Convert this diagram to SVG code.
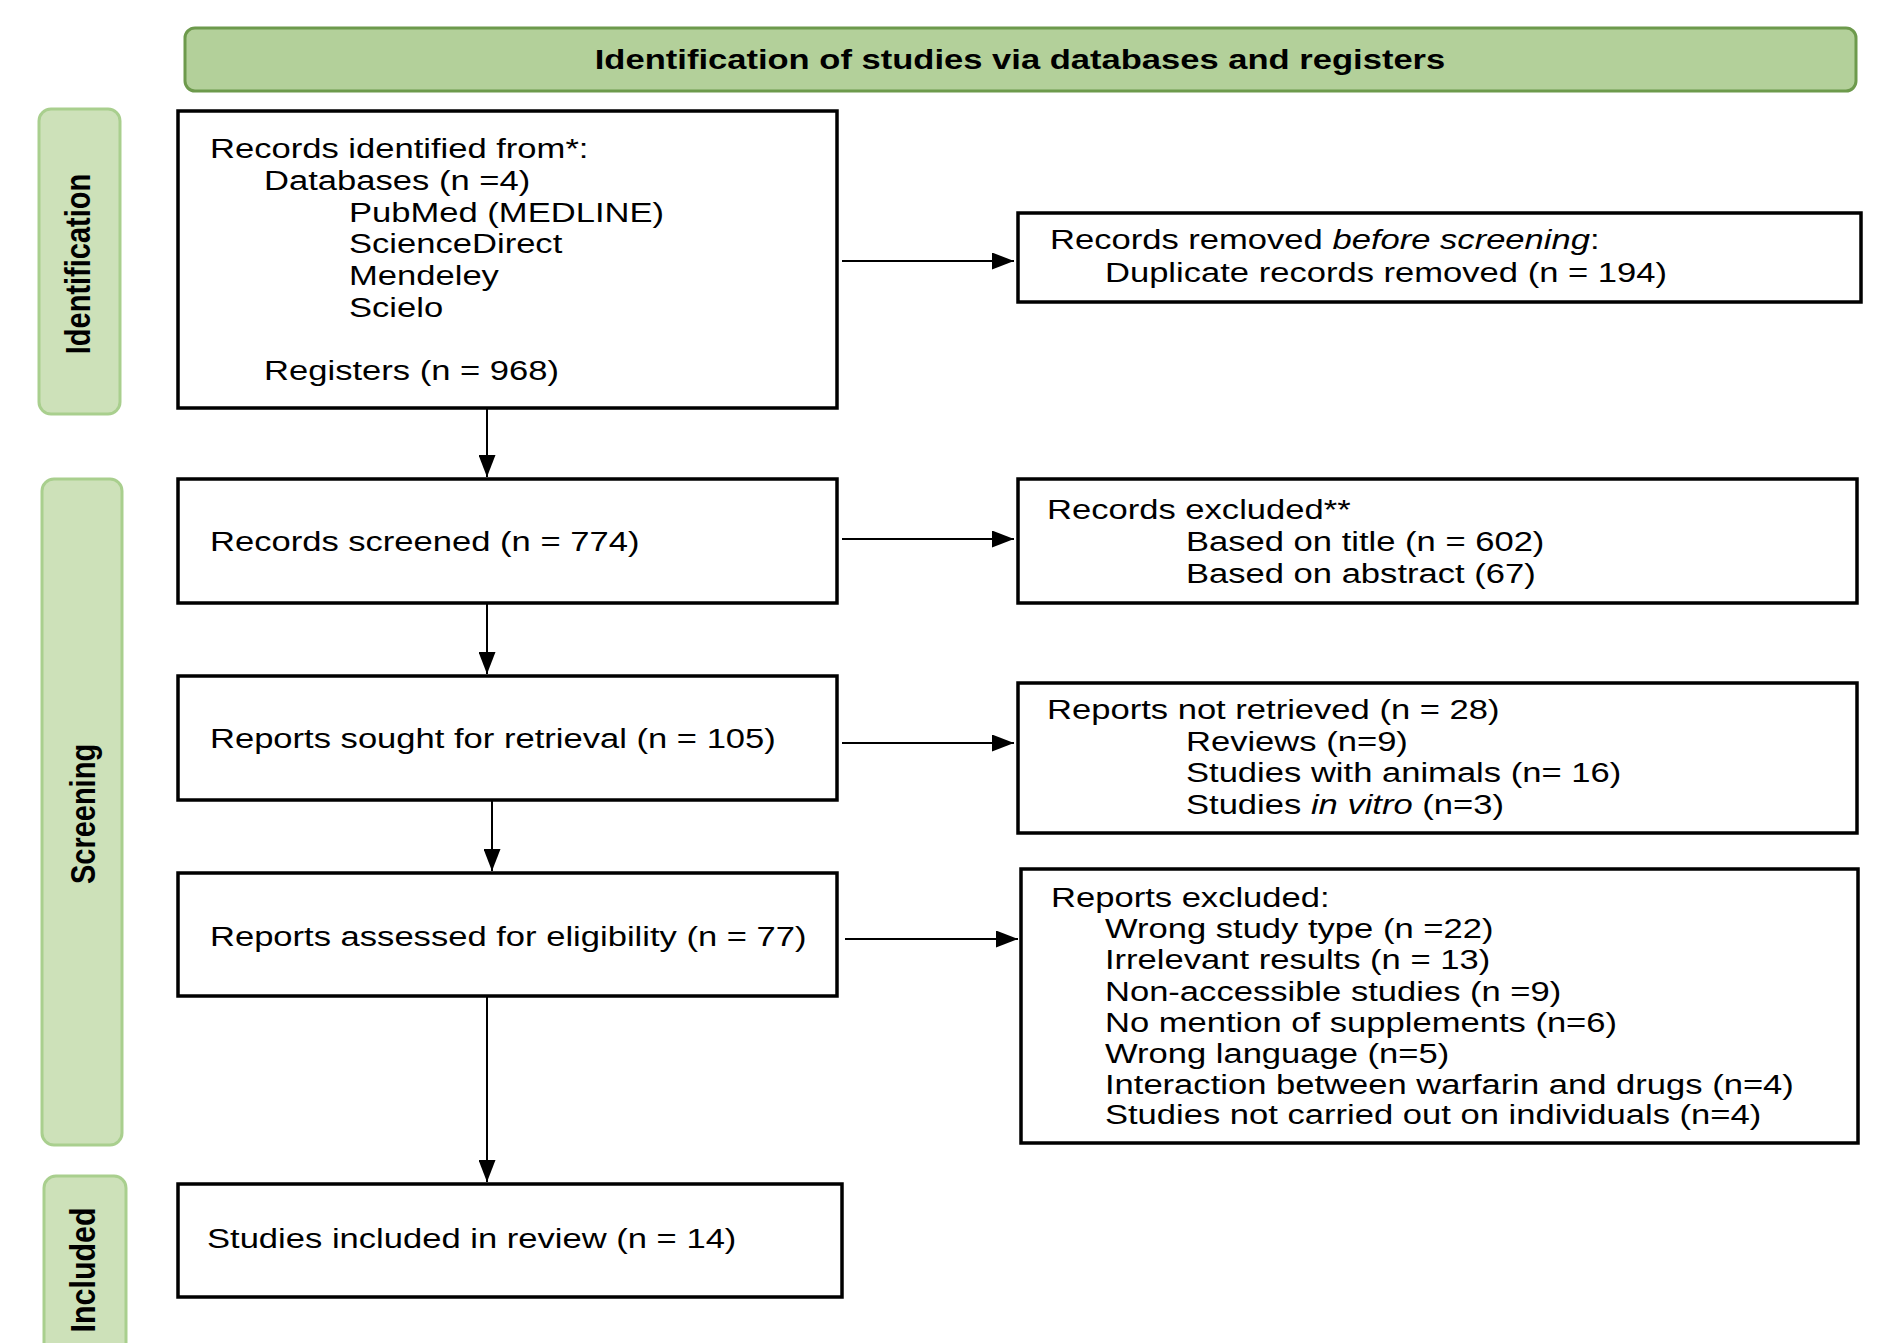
<svg xmlns="http://www.w3.org/2000/svg" width="1880" height="1343" viewBox="0 0 1880 1343">
<defs>
<style>
.box{fill:#ffffff;stroke:#000000;stroke-width:3.5}
.panel{fill:#cde1b9;stroke:#a9cf8e;stroke-width:3}
.hdr{fill:#b3d09a;stroke:#6d9a4c;stroke-width:3}
.t{font-family:"Liberation Sans",Arial,sans-serif;font-size:28px;fill:#000000}
.b{font-family:"Liberation Sans",Arial,sans-serif;font-weight:bold;fill:#000000}
.conn{stroke:#000000;stroke-width:2;fill:none;marker-end:url(#arr)}
</style>
<marker id="arr" viewBox="0 0 22 17" refX="22" refY="8.5" markerWidth="22" markerHeight="17" markerUnits="userSpaceOnUse" orient="auto">
<path d="M0,0 L22,8.5 L0,17 z" fill="#000000"/>
</marker>
</defs>
<rect width="1880" height="1343" fill="#ffffff"/>

<g id="header">
<rect class="hdr" x="185" y="28" width="1671" height="63" rx="10"/>
<text class="b" font-size="27" text-anchor="middle" transform="translate(1020,69) scale(1.28,1)" x="0" y="0">Identification of studies via databases and registers</text>
</g>

<g id="phase-identification">
<rect class="panel" x="39" y="109" width="81" height="305" rx="12"/>
<text class="b" font-size="29" text-anchor="middle" transform="translate(90,264) rotate(-90) scale(1,1.235)">Identification</text>
</g>
<g id="phase-screening">
<rect class="panel" x="42" y="479" width="80" height="666" rx="12"/>
<text class="b" font-size="29" text-anchor="middle" transform="translate(95,814) rotate(-90) scale(1,1.235)">Screening</text>
</g>
<g id="phase-included">
<rect class="panel" x="44" y="1176" width="82" height="190" rx="12"/>
<text class="b" font-size="29" text-anchor="middle" textLength="125" lengthAdjust="spacingAndGlyphs" transform="translate(95,1270) rotate(-90) scale(1,1.235)">Included</text>
</g>

<g id="connectors">
<path class="conn" d="M842,261 L1014,261"/>
<path class="conn" d="M487,409 L487,477"/>
<path class="conn" d="M842,539 L1014,539"/>
<path class="conn" d="M487,604 L487,674"/>
<path class="conn" d="M842,743 L1014,743"/>
<path class="conn" d="M492,801 L492,871"/>
<path class="conn" d="M845,939 L1018,939"/>
<path class="conn" d="M487,997 L487,1182"/>
</g>

<g id="records-identified">
<rect class="box" x="178" y="111" width="659" height="297"/>
<text class="t" transform="scale(1.235,1)">
<tspan x="170" y="158">Records identified from*:</tspan>
<tspan x="213.8" y="190">Databases (n =4)</tspan>
<tspan x="282.6" y="222">PubMed (MEDLINE)</tspan>
<tspan x="282.6" y="253">ScienceDirect</tspan>
<tspan x="282.6" y="285">Mendeley</tspan>
<tspan x="282.6" y="317">Scielo</tspan>
<tspan x="213.8" y="380">Registers (n = 968)</tspan>
</text>
</g>

<g id="records-removed">
<rect class="box" x="1018" y="213" width="843" height="89"/>
<text class="t" transform="scale(1.235,1)">
<tspan x="850.2" y="249">Records removed <tspan font-style="italic">before screening</tspan>:</tspan>
<tspan x="894.7" y="282">Duplicate records removed (n = 194)</tspan>
</text>
</g>

<g id="records-screened">
<rect class="box" x="178" y="479" width="659" height="124"/>
<text class="t" transform="scale(1.235,1)" x="170" y="551">Records screened (n = 774)</text>
</g>

<g id="records-excluded">
<rect class="box" x="1018" y="479" width="839" height="124"/>
<text class="t" transform="scale(1.235,1)">
<tspan x="847.8" y="519">Records excluded**</tspan>
<tspan x="960.3" y="551">Based on title (n = 602)</tspan>
<tspan x="960.3" y="583">Based on abstract (67)</tspan>
</text>
</g>

<g id="reports-sought">
<rect class="box" x="178" y="676" width="659" height="124"/>
<text class="t" transform="scale(1.235,1)" x="170" y="748">Reports sought for retrieval (n = 105)</text>
</g>

<g id="reports-not-retrieved">
<rect class="box" x="1018" y="683" width="839" height="150"/>
<text class="t" transform="scale(1.235,1)">
<tspan x="847.8" y="719">Reports not retrieved (n = 28)</tspan>
<tspan x="960.3" y="751">Reviews (n=9)</tspan>
<tspan x="960.3" y="782">Studies with animals (n= 16)</tspan>
<tspan x="960.3" y="814">Studies <tspan font-style="italic">in vitro</tspan> (n=3)</tspan>
</text>
</g>

<g id="reports-assessed">
<rect class="box" x="178" y="873" width="659" height="123"/>
<text class="t" transform="scale(1.235,1)" x="170" y="946">Reports assessed for eligibility (n = 77)</text>
</g>

<g id="reports-excluded">
<rect class="box" x="1021" y="869" width="837" height="274"/>
<text class="t" transform="scale(1.235,1)">
<tspan x="851" y="907">Reports excluded:</tspan>
<tspan x="894.7" y="938">Wrong study type (n =22)</tspan>
<tspan x="894.7" y="969">Irrelevant results (n = 13)</tspan>
<tspan x="894.7" y="1001">Non-accessible studies (n =9)</tspan>
<tspan x="894.7" y="1032">No mention of supplements (n=6)</tspan>
<tspan x="894.7" y="1063">Wrong language (n=5)</tspan>
<tspan x="894.7" y="1094">Interaction between warfarin and drugs (n=4)</tspan>
<tspan x="894.7" y="1124">Studies not carried out on individuals (n=4)</tspan>
</text>
</g>

<g id="studies-included">
<rect class="box" x="178" y="1184" width="664" height="113"/>
<text class="t" transform="scale(1.235,1)" x="167.6" y="1248">Studies included in review (n = 14)</text>
</g>
</svg>
